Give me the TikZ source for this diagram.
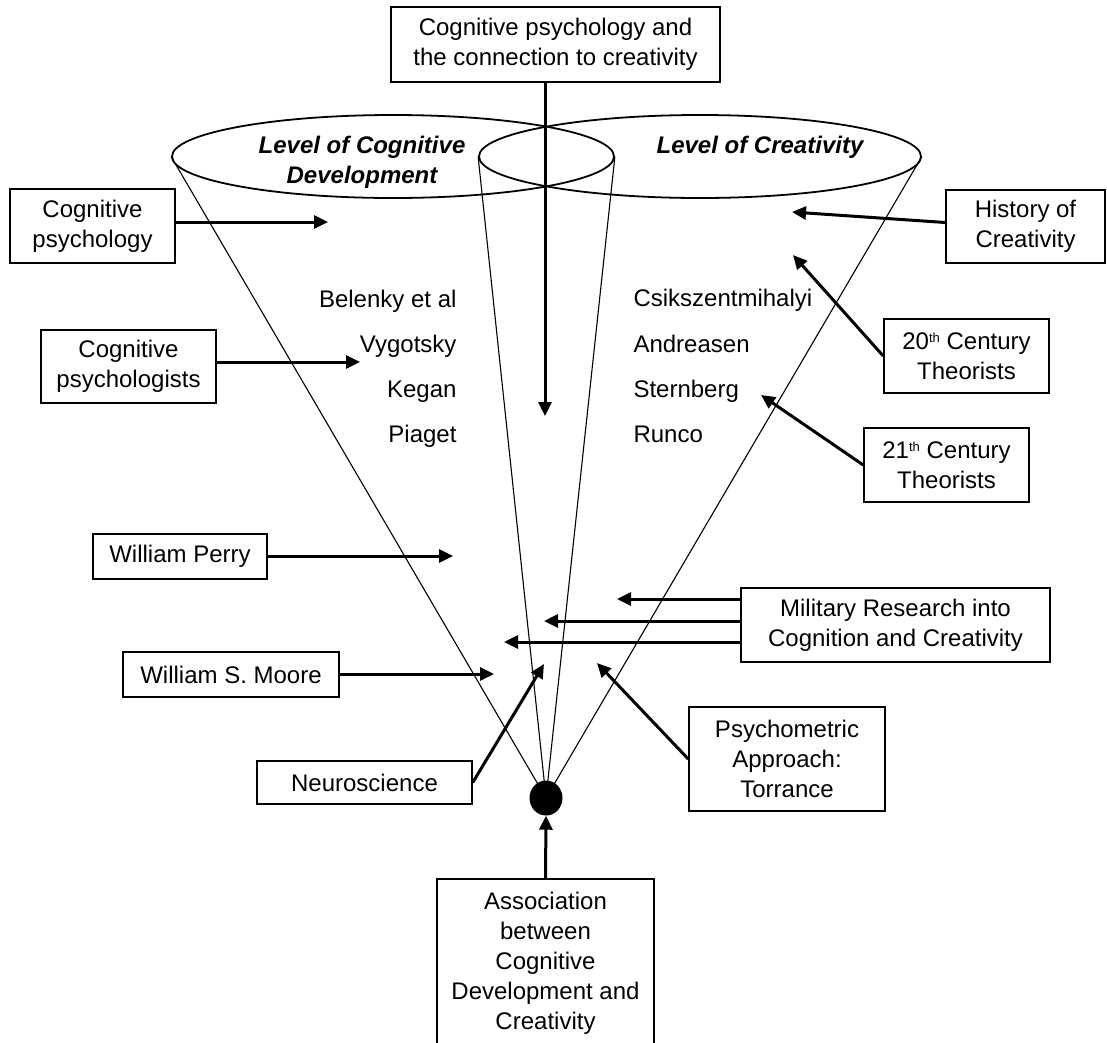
\documentclass[tikz,border=0pt]{standalone}
\usepackage{fontspec}
\setmainfont{Liberation Sans}
\usetikzlibrary{arrows.meta,shapes.geometric}
\newcommand{\ordsup}[1]{\raisebox{7pt}{\fontsize{13}{13}\selectfont #1}}
\begin{document}
\begin{tikzpicture}[x=1pt,y=-1pt,
  lbl/.style={font=\fontsize{24}{30}\selectfont},
  head/.style={font=\fontsize{24}{30}\selectfont\bfseries\itshape, align=center},
  box/.style={lbl, draw, line width=1.5pt, align=center, inner sep=0pt},
  arr/.style={line width=3pt, -{Triangle[length=14pt,width=13pt]}},
  cone/.style={line width=1.1pt},
  rim/.style={ellipse, draw, line width=1.8pt, minimum width=442pt, minimum height=83pt, inner sep=0pt}]
\useasboundingbox (0,0) rectangle (1107,1042);
\clip (0,0) rectangle (1107,1042);

% the two cone rims
\node[rim] (lrim) at (393,156.5) {};
\node[rim] (rrim) at (700,156.5) {};
\node[head] (lhead) at (362,162) {Level of Cognitive\\Development};
\node[head] (rhead) at (760,147) {Level of Creativity};

% apex of both cones
\coordinate (apex) at (546,798);
\draw[cone] (lrim.west) -- (apex);
\draw[cone] (lrim.east) -- (apex);
\draw[cone] (rrim.west) -- (apex);
\draw[cone] (rrim.east) -- (apex);
\node[ellipse, fill=black, minimum width=33pt, minimum height=35pt, inner sep=0pt] (dot) at (apex) {};

% names inside the cones
\node[lbl, anchor=base east] (belenky) at (460,307) {Belenky et al};
\node[lbl, anchor=base east] (vygotsky) at (460,352) {Vygotsky};
\node[lbl, anchor=base east] (kegan) at (460,397) {Kegan};
\node[lbl, anchor=base east] (piaget) at (460,442) {Piaget};
\node[lbl, anchor=base west] (csik) at (630,306) {Csikszentmihalyi};
\node[lbl, anchor=base west] (andreasen) at (630,352) {Andreasen};
\node[lbl, anchor=base west] (sternberg) at (630,397) {Sternberg};
\node[lbl, anchor=base west] (runco) at (630,442) {Runco};

% boxes
\node[box, minimum width=329pt, minimum height=75pt] (top) at (555.5,44.5) {Cognitive psychology and\\the connection to creativity};
\node[box, minimum width=165pt, minimum height=74pt] (cp) at (92.5,226) {Cognitive\\psychology};
\node[box, minimum width=175pt, minimum height=73pt] (cps) at (128.5,366.5) {Cognitive\\psychologists};
\node[box, minimum width=159pt, minimum height=73pt] (hist) at (1025.5,226.5) {History of\\Creativity};
\node[box, minimum width=165pt, minimum height=74pt] (c20) at (966.5,356) {20\ordsup{th} Century\\Theorists};
\node[box, minimum width=165pt, minimum height=74pt] (c21) at (946.5,465) {21\ordsup{th} Century\\Theorists};
\node[box, minimum width=174pt, minimum height=45pt] (perry) at (180,556.5) {William Perry};
\node[box, minimum width=216pt, minimum height=45pt] (moore) at (231,674.5) {William S. Moore};
\node[box, minimum width=309pt, minimum height=74pt] (mil) at (895.5,625) {Military Research into\\Cognition and Creativity};
\node[box, minimum width=215pt, minimum height=43pt] (neuro) at (364.5,782.5) {Neuroscience};
\node[box, minimum width=196pt, minimum height=104pt] (psy) at (787,759) {Psychometric\\Approach:\\Torrance};
\node[box, minimum width=217pt, minimum height=169pt] (assoc) at (545.5,963.5) {Association\\between\\Cognitive\\Development and\\Creativity};

% arrow targets
\coordinate (tTop) at (545,416);
\coordinate (tCp) at (328,222);
\coordinate (tCps) at (360,362);
\coordinate (tPerry) at (453,556);
\coordinate (tMoore) at (494,674);
\coordinate (tNeuro) at (544,664);
\coordinate (tMilA) at (617,599);
\coordinate (tMilB) at (544,621);
\coordinate (tMilC) at (504,642);
\coordinate (tPsy) at (597,663);
\coordinate (tHist) at (792,212);
\coordinate (tC20) at (793,255);
\coordinate (tC21) at (761,395);

% arrows
\draw[arr] (top.south -| tTop) -- (tTop);
\draw[arr] (cp.east |- tCp) -- (tCp);
\draw[arr] (cps.east |- tCps) -- (tCps);
\draw[arr] (perry.east |- tPerry) -- (tPerry);
\draw[arr] (moore.east |- tMoore) -- (tMoore);
\draw[arr] (neuro.east) -- (tNeuro);
\draw[arr] (mil.west |- tMilA) -- (tMilA);
\draw[arr] (mil.west |- tMilB) -- (tMilB);
\draw[arr] (mil.west |- tMilC) -- (tMilC);
\draw[arr] (psy.west) -- (tPsy);
\draw[arr] ([yshift=4pt]hist.west) -- (tHist);
\draw[arr] (c20.west) -- (tC20);
\draw[arr] (c21.west) -- (tC21);
\draw[arr] (assoc.north) -- (dot.south);
\end{tikzpicture}
\end{document}
